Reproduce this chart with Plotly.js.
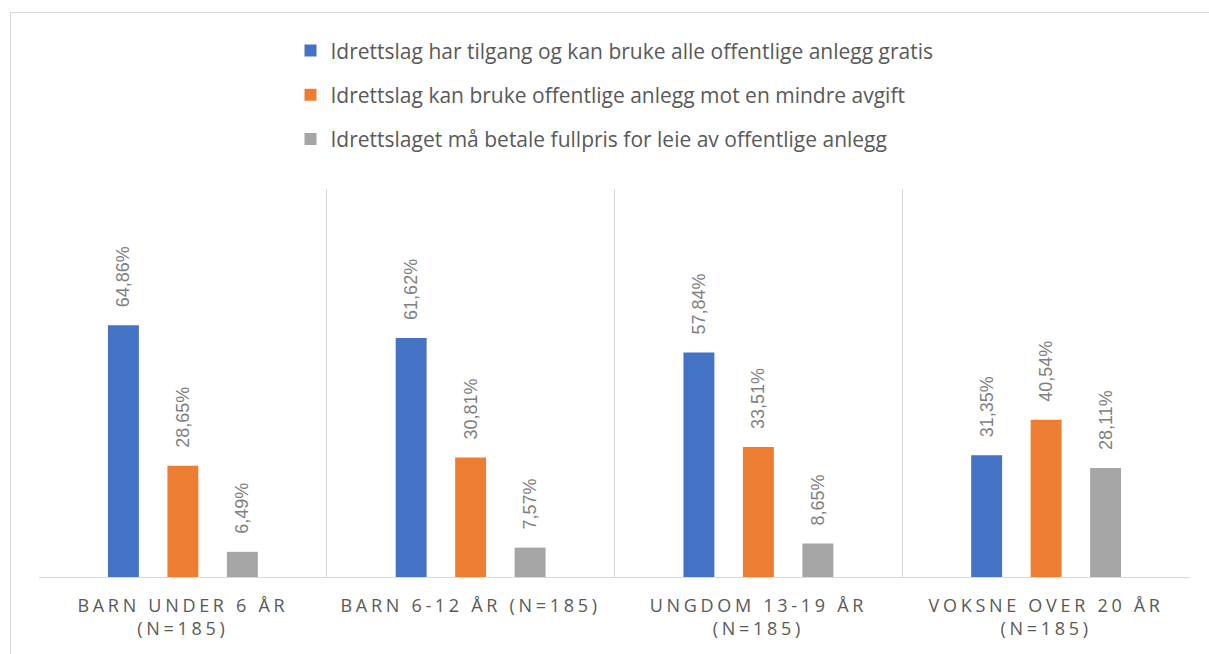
<!DOCTYPE html>
<html>
<head>
<meta charset="utf-8">
<script src="https://cdn.plot.ly/plotly-3.0.1.min.js"></script>
<style>
  body { margin: 0; background: #fff; }
  #frame { position: absolute; left: 10px; top: 12px; width: 1300px; height: 700px;
           border-left: 1px solid #d9d9d9; border-top: 1px solid #d9d9d9; pointer-events: none; }
  #chart .xtick text { letter-spacing: 3.7px; }
</style>
</head>
<body>
<div id="chart" style="width:1209px;height:654px;"></div>
<div id="frame"></div>
<script>
  // kategorier (aldersgrupper)
  const categories = [
    "BARN UNDER 6 ÅR<br>(N=185)",
    "BARN 6-12 ÅR (N=185)",
    "UNGDOM 13-19 ÅR<br>(N=185)",
    "VOKSNE OVER 20 ÅR<br>(N=185)"
  ];

  const seriesNames = [
    "Idrettslag har tilgang og kan bruke alle offentlige anlegg gratis",
    "Idrettslag kan bruke offentlige anlegg mot en mindre avgift",
    "Idrettslaget må betale fullpris for leie av offentlige anlegg"
  ];

  const gratis = [64.86, 61.62, 57.84, 31.35];
  const mindreAvgift = [28.65, 30.81, 33.51, 40.54];
  const fullpris = [6.49, 7.57, 8.65, 28.11];

  const colors = ["#4472C4", "#ED7D31", "#A5A5A5"];
  const values = [gratis, mindreAvgift, fullpris];

  var data = values.map(function (vals, i) {
    return {
      type: "bar",
      name: seriesNames[i],
      x: categories,
      y: vals,
      legendgroup: "g" + i,
      marker: { color: colors[i] },
      texttemplate: "\u00a0\u00a0\u00a0%{y:.2f}%",
      textposition: "outside",
      textangle: -90,
      constraintext: "none",
      cliponaxis: false,
      textfont: { family: "Liberation Sans, Arial, sans-serif", size: 18, color: "#7f7f7f" },
      hoverinfo: "skip"
    };
  });

  var layout = {
    width: 1209,
    height: 654,
    separators: ", ",
    margin: { l: 39, r: 19, t: 189, b: 77 },
    paper_bgcolor: "#ffffff",
    plot_bgcolor: "#ffffff",
    font: { family: "Open Sans, sans-serif", color: "#595959" },
    barmode: "group",
    bargap: 0.38,
    bargroupgap: 0.48,
    showlegend: true,
    legend: {
      orientation: "v",
      x: 0.5,
      xanchor: "center",
      y: 1.409,
      yanchor: "top",
      traceorder: "grouped",
      tracegroupgap: 14,
      itemwidth: 30,
      font: { family: "Open Sans, sans-serif", size: 21, color: "#595959" },
      bgcolor: "rgba(0,0,0,0)"
    },
    xaxis: {
      type: "category",
      tickson: "boundaries",
      showgrid: true,
      gridcolor: "#d9d9d9",
      gridwidth: 1,
      showline: true,
      linecolor: "#d9d9d9",
      linewidth: 1,
      ticks: "",
      ticklabelstandoff: 12,
      tickfont: { family: "Open Sans, sans-serif", size: 18, color: "#595959" },
      fixedrange: true
    },
    yaxis: {
      range: [0, 100],
      showgrid: false,
      zeroline: false,
      showticklabels: false,
      showline: false,
      fixedrange: true
    }
  };

  Plotly.newPlot("chart", data, layout, { displayModeBar: false, staticPlot: true });
</script>
</body>
</html>
